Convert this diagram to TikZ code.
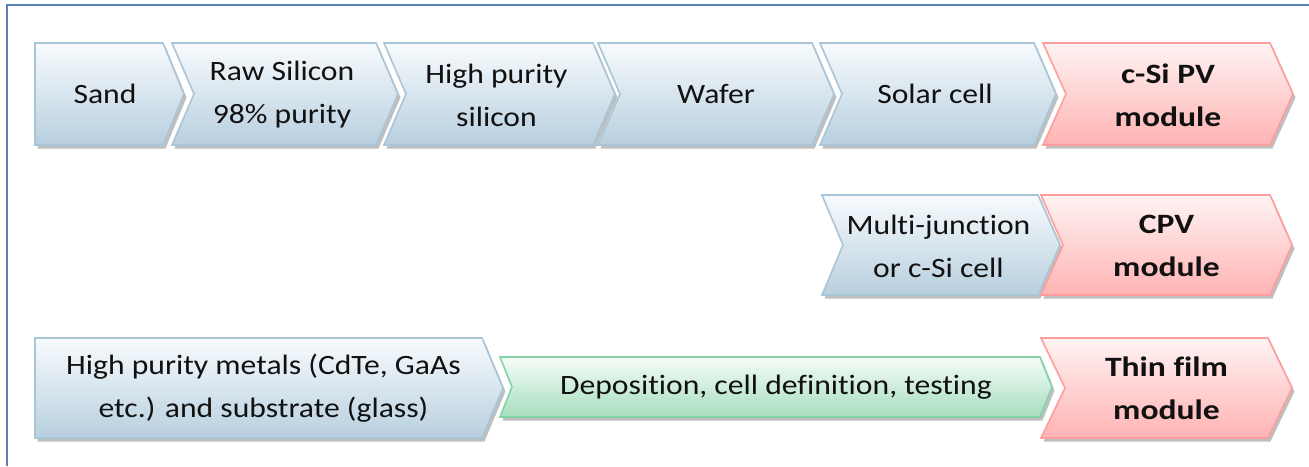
\documentclass[tikz,border=0pt]{standalone}
\usepackage{fontspec}
\setmainfont[FakeStretch=1.13, RawFeature={-liga;-clig;-calt;-dlig}]{Carlito}
\newfontfamily\boldwide[FakeStretch=1.2, RawFeature={-liga;-clig;-calt;-dlig}]{Carlito}
\definecolor{frameblue}{HTML}{5B80B6}
\definecolor{bluetop}{HTML}{F8FBFD}
\definecolor{bluebot}{HTML}{B8CFDF}
\definecolor{blueline}{HTML}{A9C5D8}
\definecolor{redtop}{HTML}{FFF3F3}
\definecolor{redbot}{HTML}{FFB3B3}
\definecolor{redline}{HTML}{FF9C9C}
\definecolor{greentop}{HTML}{F5FCF8}
\definecolor{greenbot}{HTML}{A6DDBE}
\definecolor{greenline}{HTML}{84D3A6}
\definecolor{txt}{HTML}{111111}
\tikzset{
  bluechev/.style={top color=bluetop, bottom color=bluebot, draw=blueline, line width=1.6pt},
  redchev/.style={top color=redtop, bottom color=redbot, draw=redline, line width=1.6pt},
  greenchev/.style={top color=greentop, bottom color=greenbot, draw=greenline, line width=1.6pt},
  chevshadow/.style={fill=black!45, opacity=0.55},
  lbl/.style={align=center, text=txt, inner sep=0pt, font=\fontsize{28}{43}\selectfont},
  blbl/.style={lbl, font=\boldwide\fontsize{28}{43}\selectfont\bfseries},
}
% #1 style, #2 name, #3 left x, #4 top-right x, #5 top y, #6 bottom y, #7 notch depth, #8 tip depth
\newcommand{\chev}[8]{%
  \path[chevshadow, shift={(2.5,3.5)}] (#3,#5) -- (#4,#5) -- ({#4+#8},{(#5+#6)/2}) -- (#4,#6) -- (#3,#6) -- ({#3+#7},{(#5+#6)/2}) -- cycle;
  \path[#1] (#3,#5) -- (#4,#5) -- ({#4+#8},{(#5+#6)/2}) -- (#4,#6) -- (#3,#6) -- ({#3+#7},{(#5+#6)/2}) -- cycle;
  \coordinate (#2) at ({(#3+#7+#4)/2},{(#5+#6)/2});
}
\begin{document}
\begin{tikzpicture}[x=1pt,y=-1pt]
\useasboundingbox (0,0) rectangle (1309,466);
\fill[white] (0,0) rectangle (1309,466);
\draw[frameblue, line width=2.2pt] (1309,5) -- (7,5) -- (7,466);
% row 1
\chev{bluechev}{c-sand}{35}{163}{43}{145}{0}{21}
\chev{bluechev}{c-raw}{172}{376}{43}{145}{22}{22}
\chev{bluechev}{c-hps}{384}{593}{43}{145}{22}{22}
\chev{bluechev}{c-wafer}{598}{812}{43}{145}{22}{22}
\chev{bluechev}{c-solar}{820}{1034}{43}{145}{22}{22}
\chev{redchev}{c-csi}{1043}{1270}{43}{145}{23}{23}
% row 2
\chev{bluechev}{c-multi}{822}{1038}{195}{295}{21}{22}
\chev{redchev}{c-cpv}{1041}{1270}{195}{295}{22}{22}
% row 3
\chev{bluechev}{c-metals}{35}{482}{338}{438}{0}{21}
\chev{greenchev}{c-depo}{500}{1040}{357}{417}{12}{12}
\chev{redchev}{c-thin}{1041}{1268}{338}{438}{24}{24}
% labels
\node[lbl] (sand) at ([xshift=6pt]c-sand) {Sand};
\node[lbl] (raw) at ([xshift=-3pt,yshift=-1pt]c-raw) {Raw Silicon\\98\% purity};
\node[lbl] (hps) at ([xshift=-3pt,yshift=-1pt]c-hps) {High purity\\silicon};
\node[lbl] (wafer) at (c-wafer) {Wafer};
\node[lbl] (solar) at ([xshift=-3pt]c-solar) {Solar cell};
\node[blbl] (csi) at ([yshift=-1pt]c-csi) {c-Si PV\\module};
\node[lbl] (multi) at ([xshift=-2pt,yshift=-1pt]c-multi) {Multi-junction\\or c-Si cell};
\node[blbl] (cpv) at ([yshift=-1pt]c-cpv) {CPV\\module};
\node[lbl] (metals) at ([xshift=5pt]c-metals) {High purity metals (CdTe, GaAs\\etc.) and substrate (glass)};
\node[lbl] (depo) at (c-depo) {Deposition, cell definition, testing};
\node[blbl] (thin) at (c-thin) {Thin film\\module};
\end{tikzpicture}
\end{document}
